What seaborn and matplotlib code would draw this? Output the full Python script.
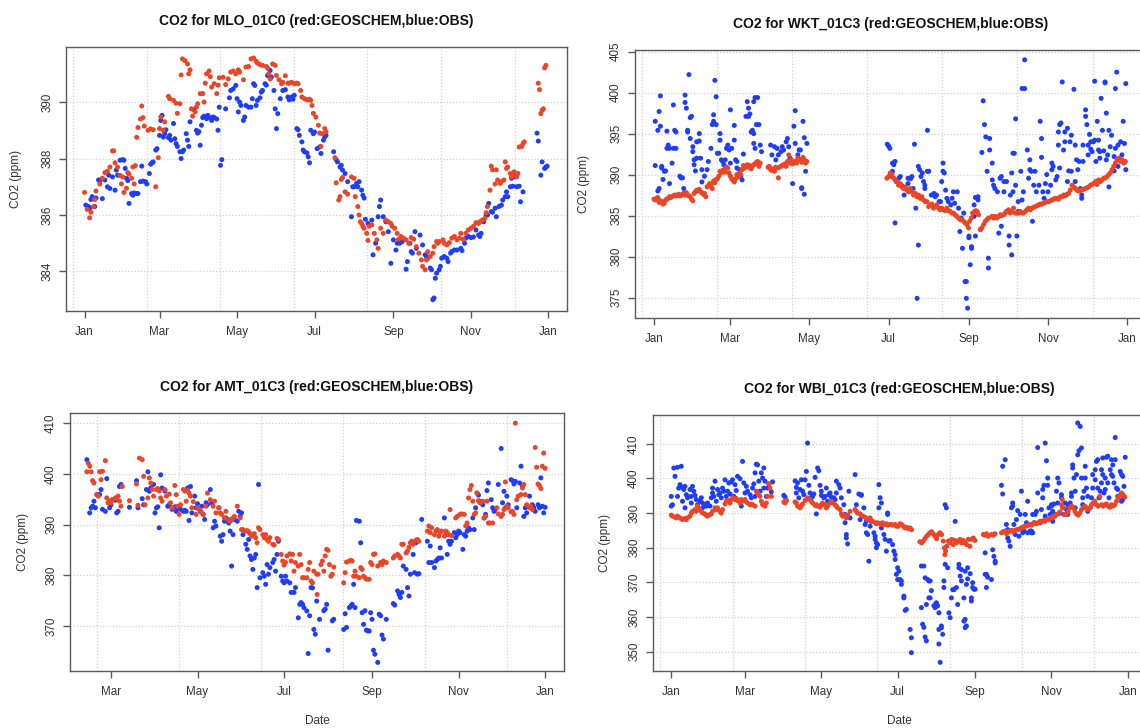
import numpy as np
import pandas as pd
import matplotlib
matplotlib.use("Agg")
import matplotlib.pyplot as plt
import matplotlib.dates as mdates
from matplotlib.ticker import MultipleLocator, FixedLocator
import seaborn as sns

BASE_DATE = "2009-01-01"   # day 0 of every series below
SOURCES = ["OBS", "GEOSCHEM"]
COLORS = {"GEOSCHEM": "#EA4527", "OBS": "#1F3DF7"}
MONTH_TICKS = [1, 3, 5, 7, 9, 11]

# ---------------- MLO_01C0 : (day of year, CO2 ppm) ----------------
mlo_model = [(0,386.8),(2,386.2),(4,385.9),(5,386.1),(7,386.3),(8,386.55),(9,386.85),(12,387.1),(14,387.3),(16,387.5),
 (18,387.55),(20,387.7),(22,388.27),(23,388.27),(24,387.85),(26,387.7),(28,387.4),(29,387.1),(30,387.35),(31,386.8),
 (33,386.95),(34,387.5),(35,387.45),(37,387.3),(38,387.7),(39,387.1),(40,387.75),(41,388.75),(42,389.1),(44,389.4),
 (45,389.86),(46,389.45),(47,389.15),(50,389.0),(52,389.05),(54,389.02),(56,387.0),(58,388.03),(59,389.06),(60,389.47),
 (62,389.0),(63,389.3),(66,390.2),(67,390.12),(70,390.06),(72,389.96),(73,389.6),(75,389.94),(76,390.96),(77,391.53),
 (79,391.47),(81,391.35),(82,391.0),(83,391.14),(84,389.76),(85,389.5),(87,389.65),(88,389.82),(89,389.94),(91,390.3),
 (93,390.3),(94,390.0),(95,390.67),(96,391.0),(98,391.1),(99,390.9),(100,390.53),(102,390.65),(104,390.3),(105,390.6),
 (106,390.86),(109,390.88),(111,390.62),(113,390.82),(115,391.06),(117,391.1),(119,391.0),(121,391.14),(122,391.06),
 (125,390.79),(127,391.24),(129,391.26),(131,391.53),(133,391.56),(135,391.45),(136,391.38),(138,391.33),(140,391.3),
 (143,391.26),(144,391.2),(145,391.0),(146,390.82),(148,391.35),(150,391.3),(151,390.94),(153,390.79),(155,390.65),
 (156,390.7),(158,390.93),(160,390.67),(161,390.67),(163,390.7),(165,390.65),(167,390.67),(168,390.65),(170,390.41),
 (171,390.18),(173,390.12),(175,390.08),(177,390.1),(178,390.06),(179,389.88),(180,389.6),(182,389.47),(184,389.18),
 (185,388.9),(186,388.43),(187,388.88),(189,389.06),(190,388.95),(197,388.03),(198,387.14),(200,386.53),(201,386.65),
 (202,387.26),(203,387.33),(205,386.82),(207,386.74),(210,387.35),(212,387.3),(213,386.65),(215,386.3),(216,386.0),
 (217,385.76),(218,385.7),(219,385.6),(220,385.53),(222,385.35),(223,385.1),(224,385.6),(226,385.65),(228,385.35),
 (230,385.12),(231,384.82),(233,385.53),(235,385.35),(237,385.82),(239,385.76),(241,385.7),(242,385.6),(244,385.53),
 (246,385.35),(247,385.14),(249,385.24),(251,385.18),(253,385.12),(255,385.0),(257,385.2),(259,385.14),(261,384.88),
 (263,384.65),(265,384.41),(266,384.18),(268,384.06),(269,384.41),(270,384.7),(272,384.53),(274,384.65),(275,384.88),
 (277,385.06),(278,385.0),(279,385.06),(282,385.12),(283,385.0),(285,384.94),(287,385.02),(289,385.18),(291,385.24),
 (293,385.12),(295,385.18),(296,385.35),(298,385.14),(300,385.35),(302,385.47),(304,385.53),(306,385.6),(308,385.73),
 (310,385.7),(311,385.76),(313,385.82),(315,385.88),(316,386.08),(317,386.3),(319,386.88),(320,387.73),(321,387.6),
 (323,387.1),(324,387.6),(325,387.24),(327,387.12),(328,387.18),(330,387.24),(331,387.88),(332,387.65),(333,387.7),
 (335,387.47),(336,387.35),(337,387.45),(338,387.53),(340,387.35),(341,387.47),(342,388.41),(344,388.43),(345,388.53),
 (346,388.59),(357,390.67),(358,390.44),(359,389.59),(360,389.71),(361,389.76),(362,391.21),(363,391.3)]

mlo_obs = [(1,386.35),(3,386.3),(4,386.24),(5,386.55),(6,386.65),(8,386.3),(9,386.6),(11,387.24),(12,387.2),(14,386.58),
 (16,387.24),(18,387.0),(19,387.41),(20,386.94),(22,387.35),(24,386.88),(25,387.59),(26,387.41),(28,387.94),(30,387.96),
 (31,387.94),(32,387.65),(33,387.3),(34,387.22),(35,386.41),(37,386.76),(38,386.7),(39,386.78),(41,386.76),(42,386.76),
 (44,387.18),(45,387.73),(46,387.2),(48,387.18),(49,387.1),(51,387.47),(52,387.8),(53,387.85),(54,387.88),(56,388.3),
 (57,388.35),(59,388.82),(60,389.35),(61,389.53),(62,388.76),(63,388.88),(64,389.02),(66,388.74),(67,388.82),(68,388.65),
 (70,389.24),(71,388.7),(72,388.53),(73,388.43),(75,388.24),(76,388.0),(77,388.24),(78,388.3),(80,388.88),(81,388.65),
 (82,388.43),(83,389.3),(86,389.73),(88,389.0),(89,388.9),(90,388.95),(91,388.47),(92,389.18),(93,389.45),(94,389.5),
 (96,389.41),(97,389.53),(98,389.45),(100,389.35),(101,389.47),(102,389.45),(104,389.4),(105,389.0),(106,389.82),
 (107,387.76),(108,387.96),(111,389.76),(114,390.15),(115,390.41),(117,390.47),(119,390.59),(120,390.12),(121,389.65),
 (122,390.0),(123,389.88),(125,389.35),(126,389.47),(127,389.88),(129,389.82),(131,389.82),(132,390.12),(133,390.65),
 (134,390.59),(135,389.88),(136,390.06),(138,390.15),(139,390.35),(140,390.41),(142,390.65),(143,390.6),(144,390.94),
 (146,391.12),(147,390.88),(149,390.41),(150,389.76),(151,389.06),(152,389.59),(154,390.12),(156,390.41),(158,390.44),
 (160,390.18),(161,390.08),(163,390.18),(164,390.1),(165,390.24),(167,389.06),(168,389.02),(169,388.82),(171,388.59),
 (172,388.3),(173,388.24),(175,388.2),(176,388.06),(177,387.85),(178,389.0),(180,388.88),(181,388.94),(183,388.35),
 (185,388.41),(186,388.18),(188,388.65),(189,388.76),(190,388.82),(196,388.24),(198,387.96),(199,387.88),(201,387.7),
 (202,387.76),(203,387.59),(205,387.47),(207,387.18),(210,385.94),(211,387.0),(212,387.0),(214,387.12),(215,387.0),
 (216,387.18),(218,386.88),(219,386.7),(220,386.6),(221,385.85),(223,385.7),(226,385.82),(227,384.59),(229,385.0),
 (231,385.94),(232,386.3),(233,386.53),(235,385.94),(237,385.76),(239,385.41),(241,384.29),(243,385.12),(245,384.76),
 (246,385.0),(248,385.0),(250,385.06),(253,384.08),(254,384.35),(256,385.0),(257,384.7),(258,384.65),(260,385.41),
 (261,384.82),(264,385.29),(266,384.94),(268,384.59),(269,384.53),(270,384.47),(272,384.12),(273,384.06),(274,383.0),
 (275,383.06),(276,383.76),(277,383.94),(279,384.06),(280,384.18),(281,384.47),(283,384.53),(285,384.47),(286,384.35),
 (288,384.65),(289,384.71),(291,384.76),(293,384.76),(296,384.82),(297,384.74),(299,385.0),(300,385.18),(302,385.24),
 (304,385.2),(306,385.22),(308,385.47),(310,385.29),(311,385.24),(312,385.35),(314,385.76),(316,386.0),(317,386.0),
 (318,386.41),(320,386.12),(321,386.1),(323,386.24),(324,385.94),(326,386.3),(328,386.35),(329,386.53),(331,386.65),
 (332,386.82),(333,386.65),(335,387.0),(336,387.3),(337,387.02),(339,387.35),(340,387.0),(342,387.02),(343,386.47),
 (345,386.82),(356,388.9),(357,388.62),(359,387.41),(360,387.88),(362,387.65),(363,387.7),(364,387.73)]

# ---------------- WKT_01C3 ----------------
wkt_model = [(0,387.0),(1,386.9),(2,387.1),(3,387.2),(4,386.6),(5,386.8),(6,386.7),(7,386.4),(8,386.5),(9,386.9),(10,387.0),
 (11,387.1),(12,387.3),(13,387.2),(14,387.3),(15,387.4),(16,387.5),(17,387.4),(18,387.5),(19,387.6),(20,387.4),(21,387.45),
 (22,387.6),(23,387.7),(24,387.5),(25,387.8),(26,387.5),(27,387.4),(28,387.3),(29,387.0),(30,386.8),(31,387.7),(32,387.9),
 (33,388.1),(34,388.0),(35,388.2),(36,387.9),(37,387.8),(38,387.6),(39,387.7),(40,387.3),(41,388.5),(42,388.6),(43,388.9),
 (44,388.7),(45,388.3),(46,389.2),(47,389.0),(48,389.4),(49,389.5),(50,389.8),(51,390.4),(52,390.2),(53,390.5),(54,390.6),
 (55,390.3),(56,390.9),(57,390.8),(58,390.2),(59,389.8),(60,389.5),(61,389.3),(62,389.1),(63,389.5),(64,390.0),(65,389.7),
 (66,390.2),(67,390.0),(68,390.6),(69,391.1),(70,390.8),(71,391.0),(72,391.2),(73,390.9),(74,391.1),(75,390.7),(76,391.0),
 (77,391.2),(78,391.3),(79,391.5),(80,391.6),(81,391.0),(82,391.4),
 (88,390.9),(89,391.0),(90,390.6),(91,390.5),(92,390.7),(93,390.4),(94,390.9),(95,390.8),(96,389.6),(97,390.9),(98,391.0),
 (99,391.1),(100,391.2),(101,391.3),(102,391.0),(103,391.6),(104,392.4),(105,391.4),(106,391.8),(107,391.3),(108,391.5),
 (109,391.6),(110,391.4),(111,392.0),(112,391.9),(113,391.7),(114,391.5),(115,392.1),(116,391.8),(117,391.4),(118,391.6),
 (179.7,389.55),(181.0,389.76),(182.3,390.2),(183.6,390.0),(184.9,389.6),(186.1,389.35),(187.4,389.15),(188.7,388.7),
 (190.0,388.9),(191.3,388.5),(192.6,388.3),(193.9,388.5),(195.1,388.1),(196.4,387.9),(197.7,388.3),(199.0,387.9),
 (200.3,387.5),(201.6,387.7),(202.9,387.3),(204.1,387.5),(205.4,387.1),(206.7,387.3),(208.0,386.9),(209.3,386.7),
 (210.6,386.7),(211.9,386.1),(213.1,386.3),(214.4,386.4),(215.7,385.9),(217.0,386.1),(218.3,386.3),(219.6,385.9),
 (220.9,385.7),(222.1,385.9),(223.4,385.7),(224.7,385.6),(226.0,385.9),(227.3,385.6),(228.6,385.5),(229.9,385.3),
 (231.1,385.3),(232.4,385.1),(233.7,384.9),(235.0,384.7),(236.3,384.5),(237.6,384.5),(238.9,384.3),(240.1,384.1),
 (241.4,383.9),(242.7,383.5),(243.5,384.3),(244.8,384.7),(245.8,385.3),(247.4,385.5),(248.4,385.6),(249.4,385.5),
 (250.4,385.1),(251.7,383.3),(253.0,383.5),(254.3,383.9),(255.6,384.3),(256.9,384.5),(258.2,384.7),(260.7,384.9),
 (262.0,384.7),(263.3,384.9),(264.6,384.7),(265.9,384.9),(267.2,385.1),(268.4,385.0),(269.7,385.1),(271.0,385.3),
 (272.3,385.5),(273.6,385.7),(274.9,385.3),(276.2,385.5),(277.4,385.9),(278.7,385.3),(280.0,385.3),(281.3,385.3),
 (282.6,385.5),(283.9,385.3),(285.2,385.3),(286.5,385.5),(287.7,385.7),(289.0,385.9),(290.3,385.7),(291.6,385.9),
 (292.9,386.0),(294.2,386.1),(295.5,386.2),(296.8,386.3),(298.0,386.4),(299.3,386.4),(300.6,386.5),(301.9,386.6),
 (303.2,386.7),(304.5,386.7),(305.8,386.8),(307.1,386.9),(308.4,387.0),(309.6,387.1),(310.9,387.1),(312.2,387.0),
 (313.5,387.3),(314.8,387.3),(316.1,387.5),(317.4,387.4),(318.7,387.6),(319.9,387.7),(321.2,388.1),(322.5,388.7),
 (323.8,388.5),(325.1,388.3),(326.4,388.1),(327.7,388.0),(329.0,388.1),(330.3,388.1),(331.5,388.2),(332.8,388.3),
 (334.1,388.4),(335.4,388.5),(336.7,388.7),(338.0,388.8),(339.3,388.9),(340.6,389.15),(341.8,388.8),(343.1,389.35),
 (344.4,389.15),(345.7,389.35),(347.0,389.55),(348.3,389.6),(349.6,389.76),(350.9,390.0),(352.1,390.2),(353.4,390.6),
 (354.7,391.0),(356.0,391.4),(357.3,391.8),(358.6,392.0),(359.9,391.6),(361.2,391.8),(362.4,391.4),(363.7,391.6)]

wkt_obs = [(1,391.1),(1,396.5),(3,395.4),(4,397.7),(5,399.6),(5,395.9),(3,388.0),(4,388.3),(6,391.0),(6,390.8),(7,389.4),
 (8,390.4),(9,390.45),(10,395.3),(10,393.2),(11,393.6),(12,388.9),(12,393.2),(14,391.4),(15,398.5),(16,395.4),(17,395.2),
 (15,393.2),(17,393.2),(20,389.8),(21,389.6),(22,389.6),(23,388.3),(24,399.7),(24,398.8),(25,398.1),(26,395.4),(26,395.2),
 (27,402.2),(28,396.95),(29,397.1),(28,394.4),(30,393.4),(30,392.8),(31,391.8),(31,391.2),(32,390.45),(33,394.0),(33,392.0),
 (35,395.0),(35,394.1),(36,392.0),(37,390.6),(37,389.1),(39,389.8),(41,390.6),(42,391.6),(44,393.2),(45,396.1),(46,397.3),
 (47,401.5),(48,399.5),(46,396.5),(48,396.1),(49,392.6),(50,392.6),(51,395.0),(51,394.2),(52,391.8),(53,391.6),(54,391.2),
 (55,391.8),(56,393.2),(57,393.6),(58,393.0),(59,397.9),(59,391.4),(60,393.2),(62,394.2),(62,396.0),(63,391.8),(64,391.6),
 (64,390.8),(66,390.6),(67,389.8),(68,389.35),(69,392.5),(71,397.1),(72,398.9),(73,398.1),(73,397.1),(74,397.4),(75,395.2),
 (76,395.4),(77,398.9),(77,395.0),(78,399.4),(79,396.1),(80,399.4),(81,396.1),(82,393.6),(83,392.8),(77,393.8),(78,393.2),
 (81,391.1),(90,393.6),(91,392.4),(93,393.4),(94,391.8),(95,393.2),(96,392.4),(98,392.8),(99,393.4),(100,393.0),(102,394.0),
 (103,394.4),(104,393.4),(105,392.0),(107,388.9),(108,395.9),(109,397.8),(109,393.8),(111,392.4),(112,393.0),(113,393.0),
 (114,388.3),(114,388.4),(115,396.5),(116,394.5),(116,387.6),(117,390.4),(118,393.8),
 (180,393.7),(181,393.5),(182,393.2),(184,391.4),(185,391.2),(186,391.6),(183,389.8),(184,390.4),(187,389.15),(186,384.1),
 (189,389.55),(190,389.76),(191,388.7),(193,387.5),(194,388.3),(196,389.55),(196,388.9),(198,389.5),(199,389.76),(200,388.3),
 (201,393.7),(202,385.9),(203,374.9),(204,381.4),(204,391.0),(205,390.6),(206,389.76),(207,390.2),(208,389.15),(209,388.7),
 (209,388.3),(211,395.4),(211,390.4),(212,390.4),(214,387.5),(216,387.7),(217,387.3),(218,387.5),(220,386.7),(221,386.7),
 (222,389.15),(223,391.4),(223,390.4),(224,390.2),(225,388.1),(226,387.1),(227,386.7),(229,386.3),(230,387.1),(231,387.9),
 (232,386.5),(234,387.9),(235,385.9),(236,383.05),(237,384.7),(238,381.0),(239,385.3),(240,376.95),(241,374.9),(241,376.95),
 (242,373.7),(243,382.5),(243,382.3),(244,379.0),(245,381.0),(245,381.2),(247,384.9),(247,386.3),(248,382.5),(248,387.2),
 (250,387.3),(250,386.9),(252,383.3),(253,392.7),(254,399.0),(255,396.1),(256,394.6),(257,390.4),(258,379.8),(258,378.6),
 (259,394.4),(259,393.0),(261,391.4),(261,389.35),(262,388.7),(263,388.3),(265,387.9),(266,382.85),(267,389.55),(268,383.7),
 (268,389.76),(270,387.9),(270,389.15),(272,385.5),(272,389.15),(274,381.4),(274,382.5),(275,387.5),(276,380.2),(276,390.2),
 (277,392.6),(277,387.9),(278,392.6),(279,396.8),(279,388.7),(280,382.5),(281,385.5),(281,386.7),(283,390.4),(284,400.5),
 (284,386.9),(285,387.9),(286,404.0),(286,400.5),(288,393.0),(289,389.55),(290,390.6),(290,391.8),(291,390.4),(292,384.3),
 (293,388.7),(294,390.4),(295,387.9),(297,388.7),(298,396.5),(299,394.4),(299,392.1),(300,387.9),(301,387.1),(302,388.9),
 (303,390.0),(304,387.9),(306,388.7),(307,391.4),(307,390.6),(308,391.0),(310,389.35),(311,389.76),(312,395.2),(312,393.6),
 (313,396.1),(313,390.8),(314,396.3),(315,401.3),(316,393.0),(317,395.2),(317,394.0),(319,395.65),(319,389.15),(320,390.45),
 (321,394.0),(322,394.8),(322,390.4),(324,400.4),(325,393.6),(325,389.15),(326,391.8),(327,390.6),(328,391.6),(329,388.3),
 (330,387.1),(330,387.5),(331,393.6),(331,391.6),(333,397.1),(333,397.9),(334,396.1),(335,393.6),(335,392.4),(336,394.9),
 (337,393.1),(337,394.0),(338,392.8),(339,394.0),(340,394.2),(340,401.4),(341,391.6),(342,396.5),(343,393.0),(343,394.2),
 (344,392.0),(344,392.8),(345,399.3),(346,395.4),(347,392.9),(348,401.3),(348,401.2),(349,397.5),(349,391.8),(350,392.4),
 (351,388.5),(351,395.4),(352,393.4),(353,394.8),(355,392.2),(355,390.45),(356,400.5),(356,393.2),(357,402.5),(358,391.0),
 (358,393.6),(360,394.0),(361,392.4),(362,396.5),(363,393.8),(364,390.6),(364,401.1)]

# ---------------- AMT_01C3 ----------------
amt_model = [(42,400.4),(43,402.1),(44,401.5),(45,400.4),(46,398.65),(47,398.2),(49,395.9),(50,395.6),(51,400.4),(52,398.85),
 (53,400.5),(55,402.6),(56,395.25),(57,394.3),(58,394.6),(59,394.3),(60,394.9),(62,395.25),(63,395.2),(64,395.6),(65,394.6),
 (66,393.6),(67,397.5),(72,394.7),(77,398.0),(78,393.8),(79,403.1),(81,402.8),(82,399.5),(83,393.9),(85,395.25),(86,399.2),
 (87,398.2),(88,396.9),(89,395.6),(91,396.9),(92,397.1),(93,396.6),(94,395.25),(95,394.6),(97,396.9),(98,395.6),(100,396.0),
 (101,394.3),(102,393.3),(104,397.7),(105,395.9),(106,393.6),(107,392.0),(108,393.9),(110,396.9),(111,396.6),(112,394.6),
 (113,396.8),(114,396.2),(115,395.6),(116,393.3),(117,394.5),(119,392.0),(120,393.3),(121,393.0),(123,392.3),(124,392.0),
 (126,393.6),(127,396.2),(129,394.9),(131,393.6),(132,394.6),(133,392.3),(135,393.3),(136,392.3),(137,392.0),(139,391.3),
 (140,392.6),(142,391.0),(143,390.65),(144,391.0),(145,391.3),(146,391.6),(148,393.6),(150,391.3),(151,389.0),(152,389.0),
 (154,388.7),(155,388.8),(156,388.55),(157,388.2),(158,387.7),(160,388.2),(161,387.4),(162,386.4),(163,389.35),(164,389.0),
 (166,388.0),(167,387.4),(168,388.0),(169,387.05),(170,386.7),(171,387.4),(173,386.1),(174,385.95),(176,387.25),(177,387.05),
 (179,384.1),(180,382.8),(181,382.0),(182,382.5),(183,383.8),(185,384.2),(186,382.8),(187,384.1),(188,380.8),(189,382.5),
 (191,381.8),(192,384.1),(193,382.1),(194,379.5),(195,379.5),(197,379.5),(198,381.15),(199,382.5),(200,378.85),(201,378.5),
 (202,380.8),(204,380.2),(204.3,376.2),(205,380.2),(207,382.1),(208,382.8),(209,380.8),(210,383.8),(211,385.1),(212,384.9),
 (213,382.1),(214,379.8),(215,380.2),(216,381.6),(223,378.5),(224,380.5),(225,382.6),(227,382.8),(228,382.9),(229,382.8),
 (230,379.8),(231,380.8),(232,379.8),(234,379.5),(235,381.5),(236,381.15),(237,379.8),(238,379.5),(239,379.2),(241,379.2),
 (242,382.5),(243,382.1),(244,384.1),(245,384.2),(247,381.8),(249,382.5),(250,382.1),(251,382.8),(253,382.5),(258,383.4),
 (259,383.8),(261,384.1),(262,383.8),(263,383.4),(264,386.1),(265,386.1),(267,384.4),(268,384.75),(269,385.5),(270,386.4),
 (271,386.7),(272,386.1),(274,386.9),(275,387.05),(276,386.7),(282,388.7),(283,389.7),(284,388.4),(285,389.35),(287,388.0),
 (288,388.7),(289,389.0),(290,387.7),(291,388.4),(292,388.7),(294,387.7),(295,388.7),(296,388.4),(297,388.0),(298,392.95),
 (299,387.8),(302,391.3),(303,391.6),(305,392.0),(306,392.1),(308,392.0),(309,389.7),(310,390.3),(311,395.25),(312,396.9),
 (313,397.7),(314,394.6),(315,392.0),(316,392.3),(317,396.2),(318,394.7),(319,394.3),(321,394.6),(322,391.3),(323,391.6),
 (324,394.6),(325,390.3),(326,390.3),(328,390.3),(331,393.3),(332,392.1),(334,391.6),(335,392.0),(336,392.95),(337,398.4),
 (338,393.6),(339,393.3),(341,392.5),(342,392.6),(343,392.0),(344,410.0),(345,394.9),(346,395.6),(348,395.9),(349,397.2),
 (350,397.9),(351,395.9),(352,393.9),(354,393.3),(355,393.6),(356,392.95),(358,405.2),(359,401.3),(360,398.0),(361,397.7),
 (362,397.1),(363,401.5),(364,404.1),(365,401.1)]

amt_obs = [(42,402.8),(44,392.3),(45,393.3),(46,393.6),(47,394.6),(48,393.3),(49,395.9),(50,395.8),(51,395.9),(52,396.9),
 (53,393.0),(55,392.6),(56,399.05),(57,394.3),(58,393.3),(59,393.9),(60,394.9),(62,394.8),(63,392.3),(64,392.6),(65,397.5),
 (66,397.9),(72,393.4),(77,398.65),(78,393.3),(81,395.1),(82,393.9),(84,396.9),(85,400.4),(86,396.55),(87,397.2),(89,397.9),
 (90,392.3),(91,393.3),(92,393.5),(93,389.35),(94,399.8),(95,397.2),(97,396.6),(99,393.6),(100,393.9),(102,393.0),(104,393.5),
 (105,392.6),(106,393.3),(107,393.4),(108,393.0),(110,392.6),(111,392.8),(112,392.6),(113,397.2),(114,390.8),(115,397.5),
 (116,392.3),(118,395.6),(119,393.3),(120,394.1),(122,392.6),(123,393.6),(124,392.0),(125,391.0),(126,394.3),(127,393.9),
 (129,396.9),(130,394.3),(131,389.35),(132,390.65),(133,389.7),(135,393.3),(136,387.7),(137,386.7),(138,388.0),(139,390.65),
 (140,391.3),(142,390.3),(143,388.7),(144,381.8),(145,388.0),(146,391.0),(148,390.65),(149,392.6),(150,391.6),(151,392.3),
 (152,388.0),(154,386.1),(155,385.1),(156,387.05),(157,383.8),(158,383.1),(159,381.15),(160,383.4),(161,384.1),(162,377.55),
 (163,397.9),(164,379.5),(166,380.5),(167,379.8),(168,378.2),(169,382.1),(170,380.2),(171,381.5),(173,382.5),(174,383.1),
 (175,380.8),(176,384.1),(177,386.7),(179,379.8),(180,378.85),(181,378.5),(182,379.8),(183,378.85),(185,378.5),(186,376.6),
 (188,376.6),(189,377.55),(191,371.6),(192,374.25),(193,374.6),(194,374.25),(195,373.6),(197,372.95),(198,364.55),(199,372.0),
 (200,377.55),(201,377.5),(202,369.3),(203,368.35),(204,374.9),(206,371.3),(209,373.0),(210,373.3),(211,374.25),(212,365.2),
 (215,371.0),(216,371.3),(223,369.3),(224,372.4),(225,369.7),(227,373.6),(228,373.9),(229,374.25),(230,378.2),(231,373.6),
 (232,390.8),(234,390.65),(235,386.4),(236,372.6),(237,370.3),(238,373.0),(239,369.15),(240,369.0),(241,369.0),(242,372.6),
 (243,371.3),(244,365.2),(245,364.4),(247,362.8),(248,372.3),(249,372.0),(250,368.2),(251,367.4),(253,371.3),(258,374.4),
 (259,374.1),(261,376.9),(262,376.2),(263,375.6),(264,376.6),(265,381.8),(267,381.15),(268,377.55),(269,375.9),(270,380.2),
 (272,384.1),(273,380.5),(274,386.4),(275,380.2),(276,380.3),(278,391.0),(282,386.7),(283,382.5),(284,385.75),(285,382.5),
 (287,381.5),(288,382.8),(289,383.1),(290,383.4),(291,385.4),(292,383.4),(294,391.3),(295,388.0),(296,384.1),(297,386.7),
 (298,386.1),(299,386.7),(301,388.4),(302,387.4),(303,388.0),(304,388.7),(305,388.4),(307,385.1),(308,388.0),(309,387.7),
 (310,388.7),(311,389.35),(312,389.0),(314,391.3),(315,389.0),(316,393.3),(317,396.2),(318,395.8),(319,394.6),(321,393.9),
 (322,391.3),(323,392.0),(324,396.7),(325,398.2),(327,394.9),(328,393.3),(329,392.6),(330,393.0),(332,397.9),(334,405.0),
 (335,394.3),(336,396.55),(337,393.3),(338,395.6),(339,393.9),(341,398.85),(342,398.65),(343,398.0),(344,398.5),(345,393.3),
 (347,398.2),(348,401.5),(349,397.5),(350,391.6),(351,393.3),(352,392.3),(354,395.6),(355,393.3),(356,393.9),(357,393.3),
 (358,392.6),(360,393.9),(361,393.3),(362,399.2),(363,393.6),(364,392.3),(365,393.4)]

# ---------------- WBI_01C3 ----------------
wbi_model = [(0,389.4),(1,389.1),(3,388.8),(4,388.6),(5,389.1),(7,388.6),(8,388.4),(9,388.1),(11,388.4),(12,388.1),(13,388.6),
 (15,389.1),(16,390.0),(17,390.5),(19,391.0),(20,390.5),(21,392.0),(23,391.0),(24,390.5),(25,390.0),(27,389.75),(28,389.4),
 (29,389.1),(31,389.6),(32,389.75),(33,390.5),(35,391.5),(36,391.0),(37,391.5),(39,390.5),(40,390.0),(41,391.0),(43,392.6),
 (44,393.4),(45,393.6),(47,392.9),(48,393.9),(49,394.4),(51,393.9),(52,394.2),(53,393.6),(55,392.9),(56,393.9),(57,393.4),
 (59,393.9),(60,393.2),(61,392.9),(63,392.4),(64,392.6),(65,392.4),(67,392.0),(68,396.3),(69,395.8),(71,394.8),(72,393.4),
 (73,392.4),(75,392.0),(76,392.9),(77,394.8),(78,398.4),(79,397.2),(80,394.8),(90,393.2),(91,392.9),(92,393.6),(99,393.2),
 (100,392.9),(101,392.0),(103,391.5),(104,392.0),(105,392.6),(107,393.6),(108,393.9),(109,394.4),(111,393.9),(112,393.4),
 (113,392.9),(115,392.2),(116,392.4),(117,392.0),(119,391.7),(120,392.4),(121,392.9),(123,392.2),(124,391.5),(125,392.0),
 (127,392.9),(128,393.4),(129,392.9),(131,392.4),(132,392.0),(133,391.5),(135,391.0),(136,389.75),(137,389.1),(139,389.4),
 (140,388.6),(141,389.4),(143,390.5),(147,391.0),(148,390.5),(149,390.0),(151,389.75),(152,389.4),(153,389.1),(155,388.8),
 (156,388.4),(157,388.1),(159,388.6),(160,387.8),(161,387.6),(163,387.2),(164,386.9),(165,387.2),(167,386.9),(168,386.7),
 (169,387.2),(171,386.7),(172,386.9),(173,386.5),(175,386.7),(176,386.7),(177,386.5),(179,386.7),(180,386.2),
 (181.5,386.2),(182.9,386.9),(184.2,386.7),(185.5,386.2),(186.9,385.7),(188.2,385.9),(189.5,385.5),(190.9,385.7),
 (192.2,385.2),(198.8,381.7),(200.2,381.4),(201.5,381.9),(202.8,382.6),(204.2,383.3),(205.5,383.8),(206.8,384.3),
 (208.2,384.6),(209.5,384.0),(210.8,383.3),(212.2,382.6),(213.5,383.8),(214.8,384.3),(216.2,383.8),(217.5,381.9),
 (218.3,379.9),(218.8,378.0),(219.4,379.0),(220.2,380.4),(221.5,381.9),(222.8,381.4),(224.2,382.4),(225.5,380.9),
 (226.8,382.1),(228.2,381.4),(229.5,381.9),(230.8,382.4),(232.1,381.4),(233.5,382.1),(234.8,381.4),(236.1,380.9),
 (237.5,382.4),(238.8,380.4),(240.1,382.4),(241.5,382.8),(242.8,382.1),(249.5,383.8),(250.8,383.6),(252.1,384.0),
 (253.5,383.3),(256.1,383.8),(257.5,383.6),(258.8,384.0),(264.1,384.3),(265.4,384.6),(266.8,384.8),(268.1,384.0),
 (269.4,384.6),(270.8,384.8),(272.1,385.0),(273.4,384.6),(274.8,385.0),(276.1,385.2),(277.4,385.2),(278.8,385.5),
 (280.1,385.7),(281.4,385.9),(282.8,386.2),(284.1,386.2),(285.4,386.5),(286.8,386.7),(288.1,386.5),(289.4,386.9),
 (290.7,387.2),(292.1,386.9),(293.4,387.2),(294.7,387.6),(296.1,387.4),(297.4,387.8),(298.7,387.6),(300.1,388.1),
 (301.4,388.1),(302.7,388.4),(304.1,388.8),(305.4,388.6),(306.7,389.1),(308.1,389.6),(309.4,389.75),(310.7,390.3),
 (312.1,392.4),(312.6,393.9),(313.4,391.5),(314.7,389.6),(316.1,389.75),(317.4,390.5),(318.7,391.5),(320.1,392.0),
 (321.4,391.5),(322.7,390.5),(324.0,389.75),(325.4,389.4),(326.7,390.0),(328.0,391.0),(329.4,391.5),(330.7,392.0),
 (332.0,391.5),(333.4,391.0),(334.7,391.5),(336.0,392.4),(337.4,392.9),(338.7,393.4),(340.0,392.4),(341.4,392.0),
 (342.7,394.8),(344.0,392.4),(345.4,392.0),(346.7,392.4),(348.0,392.6),(349.4,392.0),(350.7,391.7),(352.0,392.4),
 (353.3,392.0),(354.7,392.4),(356.0,393.4),(357.3,394.4),(358.6,395.1),(360.0,395.8),(361.3,395.3),(362.7,394.6)]

wbi_obs = [(0,392.0),(0,394.8),(1,392.4),(2,403.0),(3,400.6),(5,403.2),(5,394.8),(6,397.2),(7,398.2),(8,403.5),(9,397.4),
 (9,393.4),(10,396.8),(11,391.5),(11,397.7),(12,395.3),(13,394.8),(13,394.4),(15,396.8),(16,392.9),(16,394.8),(17,397.7),
 (18,396.3),(19,395.1),(20,393.9),(21,392.4),(23,393.4),(24,394.4),(25,391.5),(25,392.9),(27,392.4),(28,392.0),(29,392.9),
 (31,392.0),(32,394.4),(33,395.8),(33,397.2),(34,394.8),(35,399.2),(36,393.4),(37,396.8),(38,395.3),(39,395.8),(40,394.4),
 (41,397.2),(42,396.3),(43,399.6),(44,394.8),(45,396.3),(46,398.7),(47,395.5),(48,399.0),(49,399.6),(50,394.8),(51,398.2),
 (52,396.5),(53,400.6),(55,399.9),(56,392.0),(57,404.9),(58,398.7),(59,395.8),(60,397.7),(61,396.3),(63,395.3),(64,394.4),
 (65,397.2),(66,398.4),(67,401.6),(67,394.8),(68,404.1),(69,403.9),(70,399.2),(71,396.3),(72,401.6),(73,400.1),(74,403.0),
 (74,397.2),(75,399.2),(76,394.8),(77,397.2),(78,398.4),(80,396.1),(81,399.0),
 (90,395.1),(91,394.6),(92,393.6),(99,399.3),(100,397.4),(100,395.8),(101,398.7),(102,394.4),(103,396.8),(104,399.6),
 (105,396.3),(106,395.3),(107,399.6),(108,402.0),(109,410.2),(110,398.0),(111,395.8),(112,394.4),(113,394.8),(114,395.5),
 (115,400.3),(116,389.75),(117,403.0),(118,402.2),(119,398.0),(120,395.1),(120,396.3),(122,394.4),(123,394.8),(124,397.2),
 (125,393.4),(126,395.3),(127,395.8),(128,394.6),(130,394.4),(131,393.9),(132,399.2),(132,395.8),(134,398.2),(135,397.2),
 (136,394.4),(138,392.4),(139,389.6),(139,387.2),(140,382.8),(140,383.8),(141,381.1),(142,396.3),(143,388.6),(147,401.1),
 (148,392.4),(150,395.5),(151,388.1),(152,395.1),(152,395.3),(154,391.5),(155,386.7),(156,387.6),(156,384.3),(157,383.8),
 (158,376.1),(159,386.2),(160,387.6),(162,384.3),(163,383.3),(163,382.4),(164,381.4),(164,380.0),(165,380.9),(166,391.5),
 (166,398.2),(167,394.4),(168,392.9),(168,385.7),(170,383.8),(171,382.4),(172,379.0),(173,389.6),(173,390.0),(174,381.9),
 (175,382.1),(177,380.9),(178,379.0),(179,378.0),(179,376.6),(180,372.3),(181,370.8),
 (181,374.2),(182,373.2),(183,370.8),(184,370.4),(184,369.4),(186,366.0),(186,365.5),(187,361.9),(188,362.2),(191,356.4),
 (192,354.0),(192,349.7),(200,374.7),(202,374.7),(200,362.7),(201,357.9),(202,357.0),(203,354.2),(204,353.1),(203,371.3),
 (205,370.8),(206,370.4),(207,370.4),(204,363.6),(206,365.5),(207,365.5),(208,367.6),(210,363.2),(211,363.6),(211,362.7),
 (212,364.1),(213,363.2),(214,361.2),(214,356.4),(216,357.4),(216,356.9),(217,355.0),(218,370.4),(218,368.5),(214,352.2),
 (215,346.9),(219,375.2),(219,392.4),(220,391.5),(221,374.2),(222,361.2),(223,359.8),(224,365.5),(225,367.9),(226,367.9),
 (226,367.9),(227,387.6),(228,368.5),(229,363.6),(230,375.2),(230,374.2),(231,371.8),(232,373.7),(232,370.4),(234,365.5),
 (235,373.2),(235,359.3),(236,369.4),(237,374.2),(237,371.0),(239,372.5),(240,364.6),(240,365.5),(241,369.9),(241,368.5),
 (242,368.0),(243,368.0),(235,356.9),(236,357.4),(234,358.8),
 (251,372.3),(251,378.5),(252,372.3),(253,371.5),(256,370.8),(257,379.4),(258,377.5),(259,375.6),(259,376.1),(252,368.5),
 (264,398.0),(265,395.5),(265,403.5),(267,405.4),(268,386.7),(269,385.2),(269,382.8),(270,381.9),(271,380.4),(272,391.5),
 (273,392.9),(273,392.0),(274,386.7),(275,383.8),(276,388.1),(277,390.7),(278,383.3),(279,389.6),(280,396.3),(280,385.7),
 (281,384.3),(282,384.8),(283,389.6),(284,387.2),(285,384.3),(285,393.4),(287,384.8),(288,384.3),(288,384.8),(289,384.3),
 (289,389.6),(290,387.2),(291,389.6),(292,390.5),(293,408.9),(293,395.8),(295,387.2),(296,387.6),(296,391.0),(297,394.4),
 (297,396.8),(298,398.0),(299,410.2),(299,389.1),(300,405.1),(301,400.1),(301,398.0),(302,391.5),(303,389.6),(304,392.4),
 (304,392.0),(305,387.6),(305,390.5),(306,392.6),(307,389.6),(308,396.3),(309,392.9),(309,400.1),(310,398.7),(311,390.0),
 (312,395.3),(312,394.4),(313,391.5),(314,389.6),(315,392.9),(316,391.0),(317,389.6),(317,392.4),(319,392.9),(320,394.8),
 (320,395.8),(321,403.0),(321,403.9),(322,400.1),(323,396.3),(323,391.5),(324,401.1),(325,416.0),(325,406.8),(326,408.0),
 (327,415.0),(328,408.8),(328,400.1),(329,394.4),(329,392.4),(330,396.3),(331,403.5),(331,400.1),(332,397.2),(333,394.8),
 (333,390.5),(335,391.5),(336,394.4),(337,401.1),(337,397.2),(339,399.6),(339,402.5),(340,404.9),(341,405.4),(341,397.2),
 (342,394.4),(343,396.3),(344,398.7),(344,402.5),(345,401.1),(345,405.9),(346,395.8),(347,396.8),(347,400.1),(348,406.1),
 (349,406.4),(349,398.7),(350,394.4),(351,402.5),(352,401.1),(352,405.4),(353,403.9),(353,400.6),(354,398.7),(355,411.8),
 (355,405.4),(356,397.2),(357,396.8),(357,394.8),(359,402.0),(360,401.1),(360,393.4),(361,393.9),(361,400.6),(362,397.7),
 (363,406.1)]

STATIONS = ["MLO_01C0", "WKT_01C3", "AMT_01C3", "WBI_01C3"]
SERIES = {"MLO_01C0": (mlo_obs, mlo_model), "WKT_01C3": (wkt_obs, wkt_model),
          "AMT_01C3": (amt_obs, amt_model), "WBI_01C3": (wbi_obs, wbi_model)}

# ---------------- layout (pixels in a 1140x728 canvas) ----------------
W, H = 1140, 728
LAYOUT = {  # left, top, right, bottom (px), xlim days, ylim, y step, ylabel offset, show Date label
    "MLO_01C0": (66, 47, 567, 311, (-14.6, 379.6), (382.6, 391.95), 2, -0.0998, False),
    "WKT_01C3": (635, 50, 1146, 318, (-14.6, 379.6), (372.5, 405.2), 5, -0.0998, False),
    "AMT_01C3": (70, 413, 564, 671, (30.1, 378.3), (361.1, 412.0), 10, -0.096, True),
    "WBI_01C3": (653, 415, 1146, 671, (-14.6, 379.6), (344.4, 418.3), 10, -0.098, True),
}

sns.set_style("white")
plt.rcParams["font.family"] = ["Liberation Sans", "DejaVu Sans"]
plt.rcParams["axes.titleweight"] = "bold"

base = pd.Timestamp(BASE_DATE)


def day_to_date(d):
    return base + pd.to_timedelta(np.asarray(d, dtype=float), unit="D")


def frame(obs, model):
    parts = []
    for src, pts in zip(SOURCES, (obs, model)):
        d = [p[0] for p in pts]
        v = [p[1] for p in pts]
        parts.append(pd.DataFrame({"date": day_to_date(d), "co2": v, "source": src}))
    return pd.concat(parts, ignore_index=True)


# R's grid() on POSIXct: vertical lines at multiples of 5e6 seconds
grid_dates = [pd.Timestamp(k * 5_000_000, unit="s") for k in range(244, 256)]

fig = plt.figure(figsize=(W / 100, H / 100), dpi=100)
fig.patch.set_facecolor("white")

EDGE = "#5a5a5a"
TXT = "#333333"

for st in STATIONS:
    l, t, r, b, xl, yl, ystep, ylx, show_date = LAYOUT[st]
    ax = fig.add_axes([l / W, 1 - b / H, (r - l) / W, (b - t) / H])
    obs, model = SERIES[st]
    df = frame(obs, model)
    sns.scatterplot(data=df, x="date", y="co2", hue="source", palette=COLORS,
                    s=13, linewidth=0, legend=False, ax=ax, zorder=3)
    ax.set_xlim(day_to_date(list(xl)))
    ax.set_ylim(*yl)

    ax.xaxis.set_major_locator(mdates.MonthLocator(bymonth=MONTH_TICKS, bymonthday=1))
    ax.xaxis.set_major_formatter(mdates.DateFormatter("%b"))
    ax.xaxis.set_minor_locator(FixedLocator(mdates.date2num(grid_dates)))
    ax.yaxis.set_major_locator(MultipleLocator(ystep))

    ax.set_axisbelow(True)
    ax.grid(True, which="minor", axis="x", color="#d2d2d2", linestyle=(0, (1, 1.6)), linewidth=0.9)
    ax.grid(True, which="major", axis="y", color="#d2d2d2", linestyle=(0, (1, 1.6)), linewidth=0.9)
    ax.grid(False, which="major", axis="x")

    for sp in ax.spines.values():
        sp.set_visible(True)
        sp.set_color(EDGE)
        sp.set_linewidth(1.0)
    ax.tick_params(which="major", direction="out", length=5, width=1.0, color=EDGE,
                   labelsize=8.4, labelcolor=TXT, bottom=True, left=True)
    ax.tick_params(axis="x", which="major", pad=5.5)
    ax.tick_params(axis="y", which="major", pad=4.2, labelrotation=90)
    ax.tick_params(which="minor", length=0, bottom=False, left=False)
    plt.setp(ax.get_yticklabels(), va="center")

    ax.set_title(f"CO2 for {st} (red:GEOSCHEM,blue:OBS)", fontsize=10, fontweight="bold",
                 color="#111111", pad=15.5)
    ax.set_ylabel("CO2 (ppm)", fontsize=8.5, color=TXT)
    ax.yaxis.set_label_coords(ylx, 0.5)
    ax.yaxis.label.set_va("center")
    if show_date:
        ax.set_xlabel("Date", fontsize=8.5, color=TXT)
        ax.xaxis.set_label_coords(0.5, -50 / (b - t))
        ax.xaxis.label.set_va("center")
    else:
        ax.set_xlabel("")

fig.savefig("out.png", dpi=100, facecolor="white")
